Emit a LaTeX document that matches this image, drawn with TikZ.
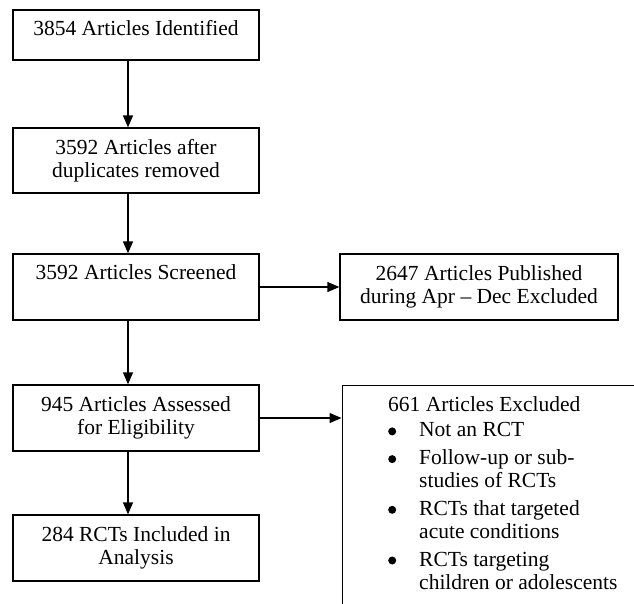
\documentclass[tikz,border=0pt]{standalone}
\usepackage{fontspec}
\setmainfont{Liberation Serif}
\usetikzlibrary{arrows.meta,calc}
\newcommand\bulitem{\makebox[31pt][l]{\tikz[baseline=0pt]{\fill[black] (4pt,5.5pt) circle[radius=4pt];}}}
\begin{document}
\begin{tikzpicture}[x=1pt,y=-1pt,
  box/.style={draw, line width=1.3pt, inner sep=0pt, align=center,
    font=\fontsize{21.5}{23}\selectfont},
  txt/.style={inner sep=0pt, align=left, font=\fontsize{21.5}{23}\selectfont},
  arr/.style={line width=1.3pt, -{Triangle[length=12pt,width=10pt]}}]
\useasboundingbox (0,0) rectangle (634,603);
\clip (0,0) rectangle (634,603);
\node[box, minimum width=246pt, minimum height=50pt, text height=14pt, text depth=14pt] (b1) at (136,35) {3854 Articles Identified};
\node[box, minimum width=246pt, minimum height=65pt] (b2) at (136,160.5) {3592 Articles after\\duplicates removed};
\node[box, minimum width=246pt, minimum height=66pt, text height=14pt, text depth=29.4pt] (b3) at (136,287) {3592 Articles Screened};
\node[box, minimum width=278pt, minimum height=66pt] (b4) at (479,287) {2647 Articles Published\\during Apr – Dec Excluded};
\node[box, minimum width=246pt, minimum height=66pt] (b5) at (136,418) {945 Articles Assessed\\for Eligibility};
\node[box, minimum width=246pt, minimum height=66pt] (b6) at (136,548) {284 RCTs Included in\\Analysis};
\node[draw, line width=1.3pt, inner sep=0pt, anchor=north west, minimum width=320pt, minimum height=260pt] (b7) at (341.5,384.5) {};
\node[txt, anchor=north west] (t7) at (388,396.7) {\rule{0pt}{15pt}661 Articles Excluded\\[2pt]
\bulitem Not an RCT\\[4.7pt]
\bulitem Follow-up or sub-\\
\hspace*{31pt}studies of RCTs\\[4.7pt]
\bulitem RCTs that targeted\\
\hspace*{31pt}acute conditions\\[4.7pt]
\bulitem RCTs targeting\\
\hspace*{31pt}children or adolescents};
\coordinate (ax) at (128,0);
\draw[arr] (b1.south -| ax) -- (b2.north -| ax);
\draw[arr] (b2.south -| ax) -- (b3.north -| ax);
\draw[arr] (b3.south -| ax) -- (b5.north -| ax);
\draw[arr] (b5.south -| ax) -- (b6.north -| ax);
\draw[arr] (b3.east) -- (b4.west);
\draw[arr] (b5.east) -- (b5.east -| b7.west);
\end{tikzpicture}
\end{document}
